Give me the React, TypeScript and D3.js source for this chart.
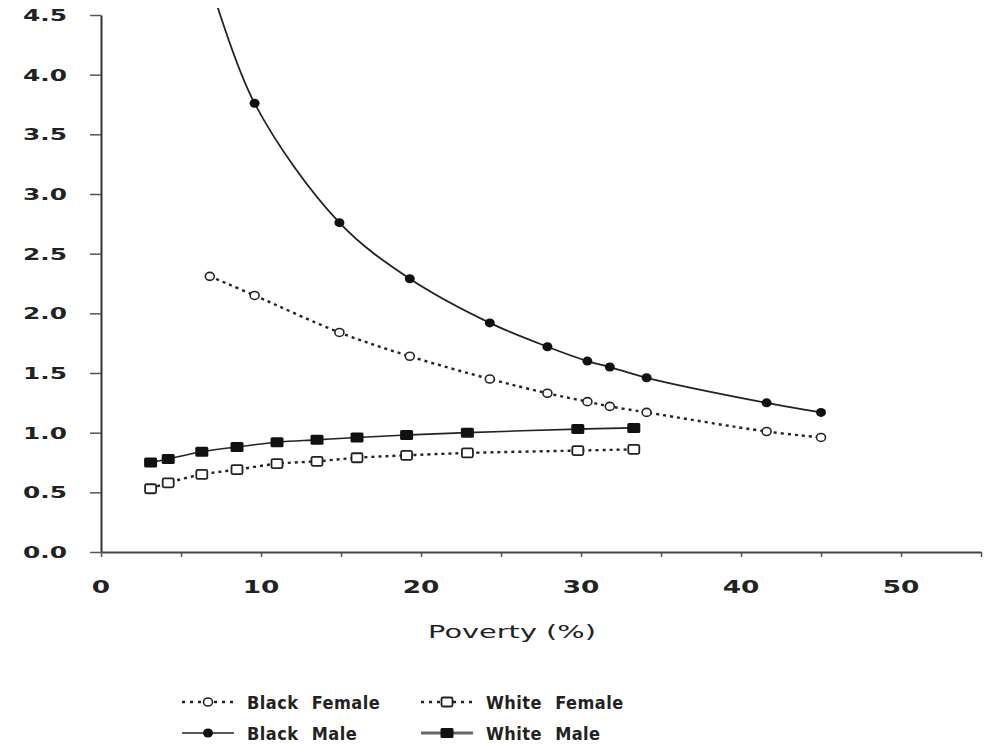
import React, { useEffect, useRef } from 'react';
import * as d3 from 'd3';

// poverty (%) on x, ratio on y
const blackPoverty = [6.8, 9.6, 14.9, 19.3, 24.3, 27.9, 30.4, 31.8, 34.1, 41.6, 45.0];
const blackMale = [4.78, 3.76, 2.76, 2.29, 1.92, 1.72, 1.6, 1.55, 1.46, 1.25, 1.17];
const blackFemale = [2.31, 2.15, 1.84, 1.64, 1.45, 1.33, 1.26, 1.22, 1.17, 1.01, 0.96];

const whitePoverty = [3.1, 4.2, 6.3, 8.5, 11.0, 13.5, 16.0, 19.1, 22.9, 29.8, 33.3];
const whiteMale = [0.75, 0.78, 0.84, 0.88, 0.92, 0.94, 0.96, 0.98, 1.0, 1.03, 1.04];
const whiteFemale = [0.53, 0.58, 0.65, 0.69, 0.74, 0.76, 0.79, 0.81, 0.83, 0.85, 0.86];

const yTicks = [0, 0.5, 1, 1.5, 2, 2.5, 3, 3.5, 4, 4.5];
const xTicks = [0, 5, 10, 15, 20, 25, 30, 35, 40, 45, 50, 55];
const xLabels = [0, 10, 20, 30, 40, 50];

const legendItems = [
  { name: 'Black Female', marker: 'openCircle', dashed: true },
  { name: 'White Female', marker: 'openSquare', dashed: true },
  { name: 'Black Male', marker: 'circle', dashed: false },
  { name: 'White Male', marker: 'square', dashed: false },
];

const W = 991;
const H = 746;

function drawMarker(g: any, kind: string, cx: number, cy: number) {
  if (kind === 'circle') {
    g.append('ellipse').attr('cx', cx).attr('cy', cy).attr('rx', 5).attr('ry', 4.5).attr('fill', '#111');
  } else if (kind === 'openCircle') {
    g.append('ellipse').attr('cx', cx).attr('cy', cy).attr('rx', 4.5).attr('ry', 4)
      .attr('fill', '#fff').attr('stroke', '#222').attr('stroke-width', 1.6);
  } else if (kind === 'square') {
    g.append('rect').attr('x', cx - 6.5).attr('y', cy - 5).attr('width', 13).attr('height', 10)
      .attr('rx', 1.5).attr('fill', '#111');
  } else {
    g.append('rect').attr('x', cx - 5.5).attr('y', cy - 4.5).attr('width', 11).attr('height', 9)
      .attr('rx', 1.5).attr('fill', '#fff').attr('stroke', '#222').attr('stroke-width', 1.8);
  }
}

export default function App() {
  const ref = useRef<SVGSVGElement>(null);

  useEffect(() => {
    const svg = d3.select(ref.current);
    svg.selectAll('*').remove();

    const x = d3.scaleLinear().domain([0, 55]).range([101, 981]);
    const y = d3.scaleLinear().domain([0, 4.5]).range([552, 15]);

    const tickFont = 'DejaVu Sans, sans-serif';

    // y axis
    const ya = svg.append('g').attr('transform', 'translate(' + x(0) + ',0)')
      .call(d3.axisLeft(y).tickValues(yTicks).tickSize(11).tickSizeOuter(0).tickFormat(() => ''));
    ya.select('.domain').attr('stroke', '#333').attr('stroke-width', 2);
    ya.selectAll('.tick line').attr('stroke', '#555').attr('stroke-width', 1.5);

    svg.append('g').selectAll('text').data(yTicks).enter().append('text')
      .attr('transform', d => 'translate(67,' + (y(d) + 6) + ') scale(1.55,1)')
      .attr('text-anchor', 'end')
      .attr('font-family', tickFont).attr('font-weight', 'bold').attr('font-size', 16)
      .attr('fill', '#222')
      .text(d => d3.format('.1f')(d));

    // x axis
    const xa = svg.append('g').attr('transform', 'translate(0,' + y(0) + ')')
      .call(d3.axisBottom(x).tickValues(xTicks).tickSize(5).tickSizeOuter(0).tickFormat(() => ''));
    xa.select('.domain').attr('stroke', '#444').attr('stroke-width', 2);
    xa.selectAll('.tick line').attr('stroke', '#555').attr('stroke-width', 1.5);

    svg.append('g').selectAll('text').data(xLabels).enter().append('text')
      .attr('transform', d => 'translate(' + x(d) + ',593) scale(1.55,1)')
      .attr('text-anchor', 'middle')
      .attr('font-family', tickFont).attr('font-weight', 'bold').attr('font-size', 17)
      .attr('fill', '#222')
      .text(d => String(d));

    svg.append('text')
      .attr('transform', 'translate(512,638) scale(1.6,1)')
      .attr('text-anchor', 'middle')
      .attr('font-family', tickFont).attr('font-size', 18).attr('fill', '#222')
      .text('Poverty (%)');

    // plot clip (curve runs off the top)
    svg.append('defs').append('clipPath').attr('id', 'plotclip')
      .append('rect').attr('x', x(0)).attr('y', 8).attr('width', 900).attr('height', 560);

    const plot = svg.append('g').attr('clip-path', 'url(#plotclip)');

    const series = [
      { xs: blackPoverty, ys: blackFemale, marker: 'openCircle', dashed: true, width: 2.4 },
      { xs: blackPoverty, ys: blackMale, marker: 'circle', dashed: false, width: 1.8 },
      { xs: whitePoverty, ys: whiteFemale, marker: 'openSquare', dashed: true, width: 2.4 },
      { xs: whitePoverty, ys: whiteMale, marker: 'square', dashed: false, width: 1.6 },
    ];

    const line = d3.line<[number, number]>()
      .x(d => x(d[0]))
      .y(d => y(d[1]))
      .curve(d3.curveCatmullRom.alpha(0.5));

    series.forEach(s => {
      const pts = s.xs.map((v, i) => [v, s.ys[i]] as [number, number]);
      plot.append('path')
        .attr('d', line(pts))
        .attr('fill', 'none')
        .attr('stroke', '#222')
        .attr('stroke-width', s.width)
        .attr('stroke-dasharray', s.dashed ? '3,4' : null);
      pts.forEach(p => drawMarker(plot, s.marker, x(p[0]), y(p[1])));
    });

    // legend
    const lg = svg.append('g');
    legendItems.forEach((it, i) => {
      const col = i % 2;
      const row = Math.floor(i / 2);
      const lx = col === 0 ? 182 : 421;
      const ly = row === 0 ? 702 : 733;
      lg.append('line')
        .attr('x1', lx).attr('x2', lx + 52).attr('y1', ly).attr('y2', ly)
        .attr('stroke', it.name === 'White Male' ? '#666' : '#222')
        .attr('stroke-width', it.dashed ? 2.4 : it.name === 'White Male' ? 3 : 1.6)
        .attr('stroke-dasharray', it.dashed ? '3,5' : null);
      drawMarker(lg, it.marker, lx + 26, ly);
      lg.append('text')
        .attr('transform', 'translate(' + (lx + 65) + ',' + (ly + 7) + ') scale(0.9,1)')
        .attr('font-family', tickFont).attr('font-weight', 'bold').attr('font-size', 18)
        .attr('word-spacing', 8).attr('letter-spacing', 0.5)
        .attr('fill', '#222')
        .text(it.name);
    });
  }, []);

  return (
    <svg
      ref={ref}
      width={W}
      height={H}
      style={{ position: 'absolute', left: 0, top: 0, background: '#fff' }}
    />
  );
}
